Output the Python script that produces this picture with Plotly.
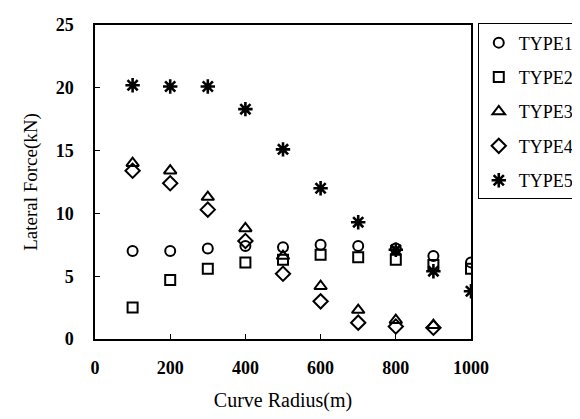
import plotly.graph_objects as go

radius = [100, 200, 300, 400, 500, 600, 700, 800, 900, 1000]
type1 = [7.0, 7.0, 7.2, 7.4, 7.3, 7.5, 7.4, 7.2, 6.6, 6.1]
type2 = [2.5, 4.7, 5.6, 6.1, 6.3, 6.7, 6.5, 6.3, 5.9, 5.6]
type3 = [14.0, 13.4, 11.3, 8.8, 6.6, 4.2, 2.3, 1.5, 1.1]
type4 = [13.4, 12.4, 10.3, 7.8, 5.2, 3.0, 1.3, 1.0, 0.9]
type5 = [20.2, 20.1, 20.1, 18.3, 15.1, 12.0, 9.3, 7.1, 5.4, 3.8]

series = [
    ("TYPE1", radius, type1, "circle-open", 10, 2),
    ("TYPE2", radius, type2, "square-open", 10, 2),
    ("TYPE3", radius[:9], type3, "triangle-up-open", 11, 2),
    ("TYPE4", radius[:9], type4, "diamond-open", 11, 2),
    ("TYPE5", radius, type5, "asterisk-open", 12, 2.6),
]

font_family = "Liberation Serif, DejaVu Serif, serif"

fig = go.Figure()
for name, xs, ys, sym, sz, lw in series:
    fig.add_trace(go.Scatter(
        x=xs, y=ys, mode="markers", name=name, legendgroup=name,
        marker=dict(symbol=sym, size=sz, color="black",
                    line=dict(color="black", width=lw)),
    ))

fig.update_layout(
    width=580, height=419,
    margin=dict(l=87, r=117, t=17, b=88, autoexpand=False),
    paper_bgcolor="white", plot_bgcolor="white",
    font=dict(family=font_family, color="black", size=18),
    showlegend=True,
    legend=dict(x=1.018, y=1.005, xanchor="left", yanchor="top",
                bordercolor="black", borderwidth=1,
                font=dict(size=18, family=font_family, color="black"),
                tracegroupgap=8, itemwidth=30),
    xaxis=dict(range=[0, 1000], tickvals=[0, 200, 400, 600, 800, 1000],
               ticks="inside", ticklen=5, tickwidth=1, tickcolor="black",
               showline=True, linecolor="black", linewidth=1.5, mirror=True,
               showgrid=False, zeroline=False, automargin=False,
               tickfont=dict(size=18, family=font_family, weight="bold"),
               ticklabelstandoff=12,
               title=dict(text="Curve Radius(m)", standoff=16,
                          font=dict(size=20, family=font_family))),
    yaxis=dict(range=[0, 25], tickvals=[0, 5, 10, 15, 20, 25],
               ticks="inside", ticklen=5, tickwidth=1, tickcolor="black",
               showline=True, linecolor="black", linewidth=1.5, mirror=True,
               showgrid=False, zeroline=False, automargin=False,
               tickfont=dict(size=18, family=font_family, weight="bold"),
               ticklabelstandoff=16,
               title=dict(text="Lateral Force(kN)", standoff=13,
                          font=dict(size=19, family=font_family))),
)

fig.write_html("out.html")
